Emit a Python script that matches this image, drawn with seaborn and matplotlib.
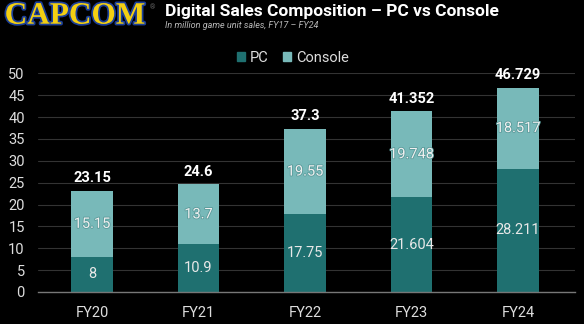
import matplotlib
matplotlib.use("Agg")
import matplotlib.pyplot as plt
import matplotlib.patheffects as pe
from matplotlib.patches import Patch
import seaborn as sns
import pandas as pd

years = ["FY20", "FY21", "FY22", "FY23", "FY24"]
pc = [8, 10.9, 17.75, 21.604, 28.211]
console = [15.15, 13.7, 19.55, 19.748, 18.517]
totals = [23.15, 24.6, 37.3, 41.352, 46.729]
pc_labels = ["8", "10.9", "17.75", "21.604", "28.211"]
console_labels = ["15.15", "13.7", "19.55", "19.748", "18.517"]
total_labels = ["23.15", "24.6", "37.3", "41.352", "46.729"]

PC_COLOR = "#1f7070"
CON_COLOR = "#78b9b9"
BG = "#000000"

sns.set_style("dark")
plt.rcParams['font.family'] = ['Roboto', 'DejaVu Sans']

df = pd.DataFrame({"year": years, "pc": pc, "console": console, "total": totals})

fig = plt.figure(figsize=(5.84, 3.24), dpi=100, facecolor=BG)
ax = fig.add_axes([0.065, 0.0988, 0.9196, 0.675])
ax.set_facecolor(BG)
ax.set_axisbelow(True)

sns.barplot(data=df, x="year", y="total", color=CON_COLOR, width=0.39,
            saturation=1, ax=ax, linewidth=0, edgecolor="none")
sns.barplot(data=df, x="year", y="pc", color=PC_COLOR, width=0.39,
            saturation=1, ax=ax, linewidth=0, edgecolor="none")

ax.set_xlim(-0.507, 4.535)
ax.set_ylim(0, 50)
ax.set_yticks(range(0, 51, 5))
ax.yaxis.grid(True, color="#333333", linewidth=0.8)
ax.xaxis.grid(False)
for s in ["left", "right", "top"]:
    ax.spines[s].set_visible(False)
ax.spines["bottom"].set_color("#777777")
ax.spines["bottom"].set_linewidth(1)
ax.tick_params(axis="y", colors="#dddddd", labelsize=10.5, length=0, pad=9.5)
ax.tick_params(axis="x", colors="#dddddd", labelsize=10.5, length=0, pad=10)
ax.set_xlabel("")
ax.set_ylabel("")

for i in range(len(years)):
    ax.text(i, pc[i] / 2, pc_labels[i], ha="center", va="center",
            color="#e8e8e8", fontsize=10.5, zorder=5)
    ax.text(i, pc[i] + console[i] / 2, console_labels[i], ha="center",
            va="center", color="#f0f0f0", fontsize=10.5, zorder=5,
            path_effects=[pe.withStroke(linewidth=1.2, foreground="#5a9a9a")])
    ax.annotate(total_labels[i], (i, totals[i]), xytext=(0, 4),
                textcoords="offset points", ha="center", va="bottom",
                color="white", fontsize=10.5, fontweight="bold",
                annotation_clip=False)

handles = [Patch(color=PC_COLOR, label="PC"), Patch(color=CON_COLOR, label="Console")]
leg = fig.legend(handles=handles, loc="center", bbox_to_anchor=(0.502, 0.821),
                 ncol=2, frameon=False, fontsize=10.5, handlelength=0.55,
                 handleheight=0.55, handletextpad=0.35, columnspacing=1.0,
                 labelcolor="#dddddd")

fig.text(0.008, 0.95, "CAPCOM", color="#f3cf12", fontsize=22.5,
         fontweight="bold", family=["Liberation Serif"], va="center",
         path_effects=[pe.withStroke(linewidth=2.5, foreground="#1b3f9a")])
fig.text(0.257, 0.975, "\u00ae", color="#666666", fontsize=5, va="center")
fig.text(0.2825, 0.963, "Digital Sales Composition \u2013 PC vs Console",
         color="white", fontsize=12.5, fontweight="bold", va="center")
fig.text(0.2825, 0.922, "In million game unit sales, FY17 \u2013 FY24",
         color="#bbbbbb", fontsize=6.5, style="italic", va="center")

fig.savefig("out.png", dpi=100, facecolor=BG)
